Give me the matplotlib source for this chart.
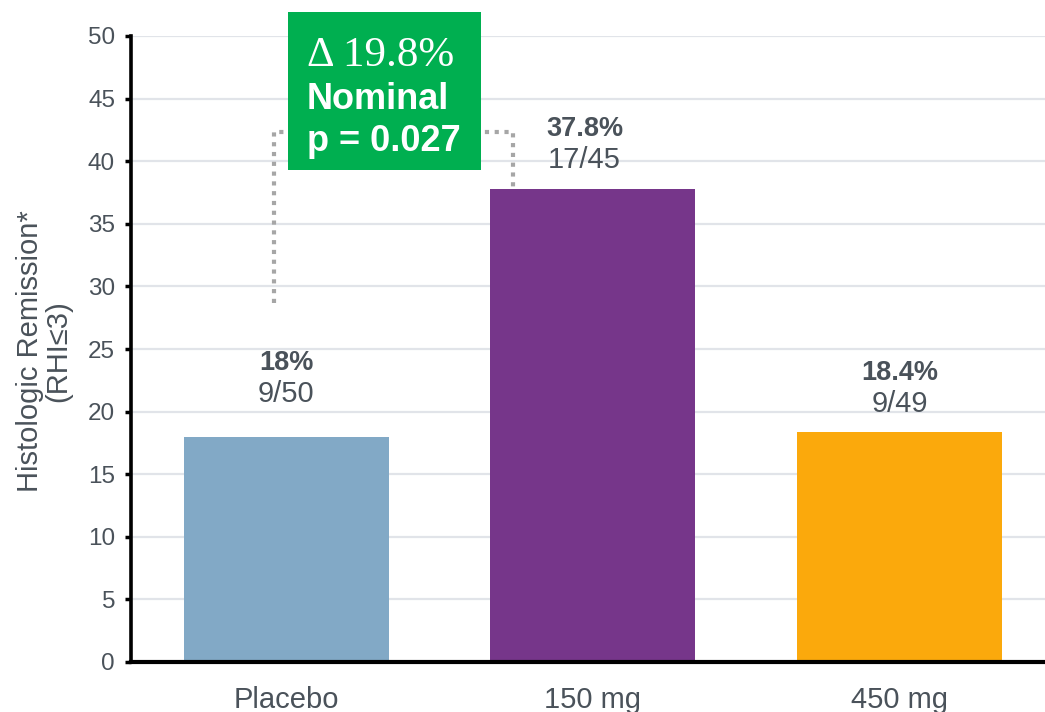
import matplotlib
matplotlib.use("Agg")
import matplotlib.pyplot as plt
from matplotlib.patches import Rectangle

# Data
groups = ["Placebo", "150 mg", "450 mg"]
remission_pct = [18.0, 37.8, 18.4]
responders = ["9/50", "17/45", "9/49"]
bar_colors = ["#82A9C6", "#76368A", "#FBA90C"]
pct_labels = ["18%", "37.8%", "18.4%"]
yticks = [0, 5, 10, 15, 20, 25, 30, 35, 40, 45, 50]

# Comparison annotation
delta_text = "\u0394 19.8%"
nominal_text = "Nominal"
p_text = "p = 0.027"

# Label offsets from each bar top (points): horizontal, fraction line, percent line
label_dx = [0, -6, 0]
frac_offsets = [31, 21, 20]
pct_offsets = [53, 43, 42]

text_gray = "#4A525A"
plt.rcParams["font.family"] = ["Liberation Sans", "DejaVu Sans"]

fig = plt.figure(figsize=(10.45, 7.12), dpi=100)
ax = fig.add_axes([131 / 1045, 50 / 712, (1045 - 131) / 1045, 626 / 712])

x = list(range(len(groups)))
bar_w = 0.669
ax.bar(x, remission_pct, width=bar_w, color=bar_colors, zorder=3)

ax.set_xlim(-0.507, 2.475)
ax.set_ylim(0, 50)
ax.set_yticks(yticks)
ax.set_xticks(x)
ax.set_xticklabels(groups)

ax.yaxis.grid(True, color="#E1E4E9", linewidth=1.6, zorder=0)
ax.set_axisbelow(True)

for side in ["top", "right"]:
    ax.spines[side].set_visible(False)
ax.spines["left"].set_linewidth(2.6)
ax.spines["bottom"].set_linewidth(3.0)
ax.spines["left"].set_color("black")
ax.spines["bottom"].set_color("black")
ax.spines["bottom"].set_zorder(4)

ax.tick_params(axis="y", length=4.5, width=2.5, color="black", pad=7,
               labelsize=17.5, labelcolor=text_gray)
ax.tick_params(axis="x", length=0, pad=17, labelsize=21, labelcolor=text_gray)

# Value labels above bars
for xi, v, pl, fr, dx, fo, po in zip(x, remission_pct, pct_labels, responders,
                                     label_dx, frac_offsets, pct_offsets):
    ax.annotate(fr, (xi, v), xytext=(dx, fo), textcoords="offset points",
                ha="center", va="center", fontsize=21, color=text_gray)
    ax.annotate(pl, (xi, v), xytext=(dx, po), textcoords="offset points",
                ha="center", va="center", fontsize=19.5, fontweight="bold",
                color=text_gray)

# Dotted bracket from placebo to 150 mg
bracket_top = 42.3
left_leg_bottom = 28.7
bx0, bx1 = -0.041, 0.739
ax.plot([bx0, bx0, bx1, bx1],
        [left_leg_bottom, bracket_top, bracket_top, remission_pct[1]],
        color="#A6A6A6", linewidth=3.0, linestyle=(0, (1.0, 1.35)),
        solid_capstyle="butt", dash_capstyle="butt", zorder=5, clip_on=False)

# Green difference box
box_x0, box_w = 0.005, 0.630
box = Rectangle((box_x0, 39.3), box_w, 12.6, facecolor="#00AF50",
                edgecolor="none", zorder=6, clip_on=False)
ax.add_patch(box)
tx = box_x0 + 0.062
ax.text(tx, 48.4, delta_text, ha="left", va="center", color="white",
        fontsize=31, family=["Liberation Serif", "DejaVu Serif"], zorder=7)
ax.text(tx, 44.9, nominal_text, ha="left", va="center", color="white",
        fontsize=26, fontweight="bold", zorder=7)
ax.text(tx, 41.6, p_text, ha="left", va="center", color="white",
        fontsize=26, fontweight="bold", zorder=7)

# Y-axis title
fig.text(44 / 1045, 1 - 351 / 712, "Histologic Remission*\n(RHI\u22643)",
         rotation=90, ha="center", va="center", fontsize=21,
         color=text_gray, linespacing=1.0)

fig.savefig("out.png", dpi=100)
